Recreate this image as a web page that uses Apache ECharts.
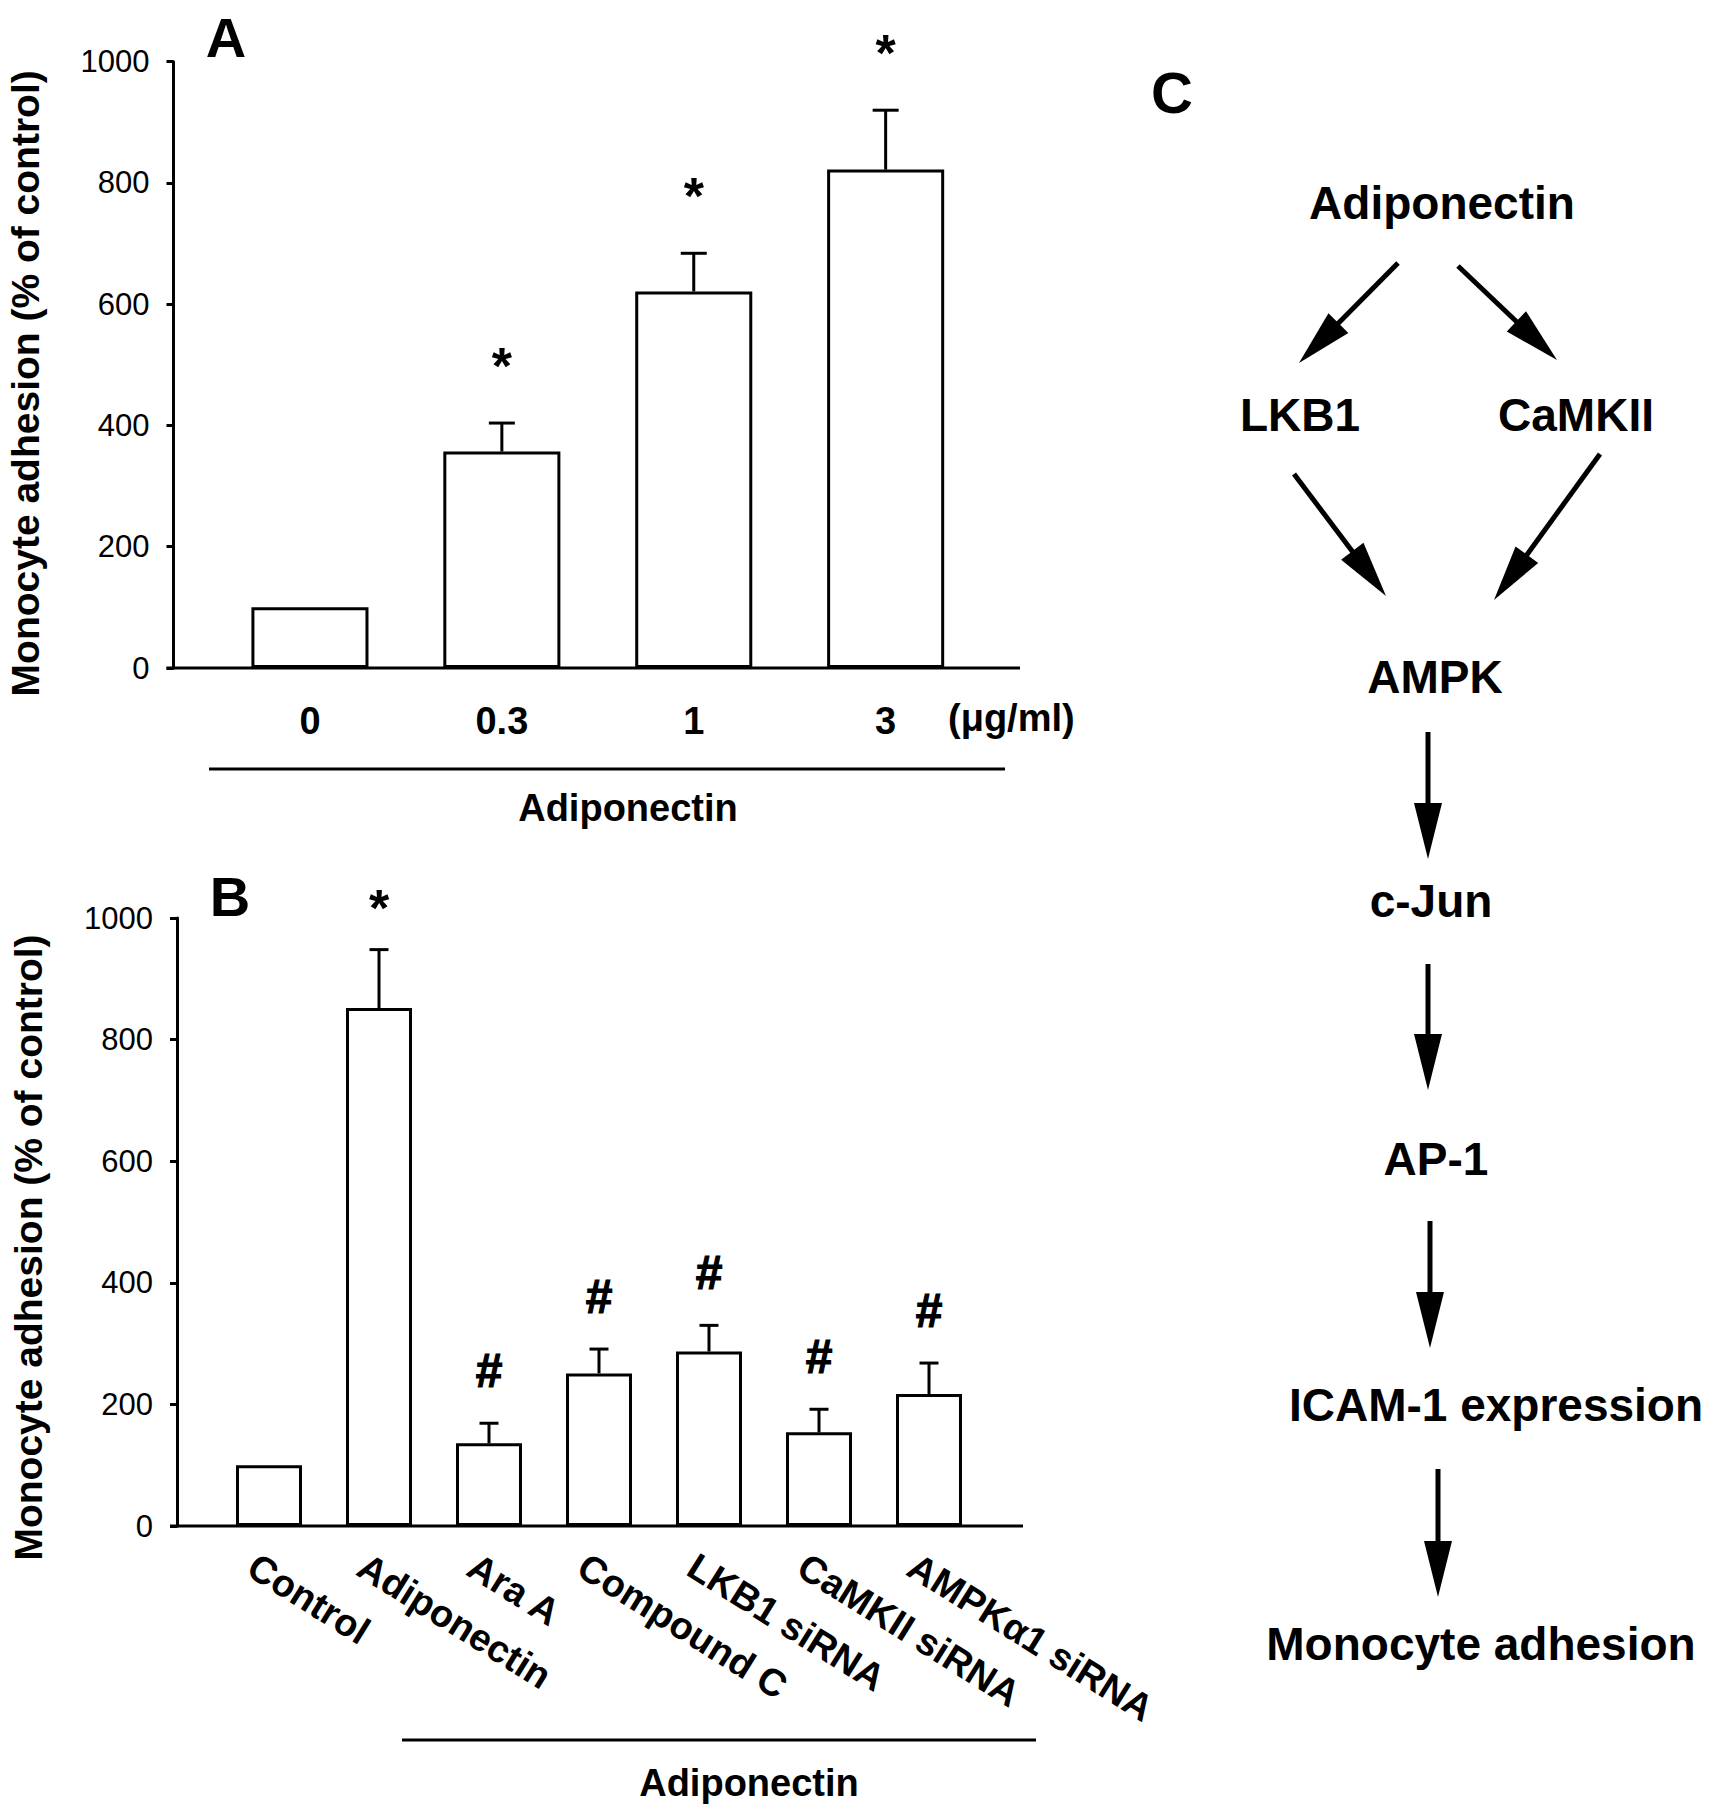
<!DOCTYPE html>
<html><head><meta charset="utf-8">
<script src="https://cdn.jsdelivr.net/npm/echarts@6/dist/echarts.min.js"></script>
<style>html,body{margin:0;padding:0;background:#fff}#c{width:1719px;height:1818px}</style>
</head><body><div id="c"></div>
<script>
// ---------- data ----------
const aCategories = ['0', '0.3', '1', '3'];
const aMeans = [100, 357, 621, 822];
const aSem = [0, 47, 63, 98];
const aMarks = ['', '*', '*', '*'];

const bCategories = ['Control', 'Adiponectin', 'Ara A', 'Compound C', 'LKB1 siRNA', 'CaMKII siRNA', 'AMPKα1 siRNA'];
const bMeans = [100, 852, 136, 251, 287, 154, 217];
const bSem = [0, 96, 33, 40, 43, 38, 51];
const bMarks = ['', '*', '#', '#', '#', '#', '#'];

const yMin = 0, yMax = 1000, yStep = 200;
const yAxisTitle = 'Monocyte adhesion (% of control)';
const groupLabel = 'Adiponectin';
const unitLabel = '(μg/ml)';

const pathwayNodes = ['Adiponectin', 'LKB1', 'CaMKII', 'AMPK', 'c-Jun', 'AP-1', 'ICAM-1 expression', 'Monocyte adhesion'];
const pathwayEdges = [[0, 1], [0, 2], [1, 3], [2, 3], [3, 4], [4, 5], [5, 6], [6, 7]];

// ---------- layout (positions / styles) ----------
const FONT = '"Liberation Sans", Arial, Helvetica, sans-serif';
const gA = {left: 214, top: 61.7, width: 767.6, height: 606.3, axisX: 173.5, lineEnd: 1020};
const gB = {left: 214, top: 918, width: 770, height: 608, axisX: 177, lineEnd: 1023};
const nodePos = [[1442, 203], [1300, 415], [1576, 415], [1435, 677], [1431, 901], [1436, 1159], [1496, 1405], [1481, 1644]];
const edgePos = [
  [[1398, 263], [1299, 363]],
  [[1458, 266], [1557, 360]],
  [[1294, 474], [1386, 596]],
  [[1600, 454], [1494, 600]],
  [[1428, 732], [1428, 859]],
  [[1428, 964], [1428, 1090]],
  [[1430, 1221], [1430, 1348]],
  [[1438, 1469], [1438, 1597]]
];

const chart = echarts.init(document.getElementById('c'), null, {renderer: 'svg'});

function yAxisCfg(gridIndex, offset, shiftPad) {
  return {
    type: 'value', gridIndex, min: yMin, max: yMax, interval: yStep, offset,
    name: yAxisTitle, nameLocation: 'middle', nameGap: 129,
    nameTextStyle: {fontFamily: FONT, fontSize: 39, fontWeight: 'bold', color: '#000', padding: [0, shiftPad, 0, 0]},
    axisLine: {show: true, lineStyle: {color: '#000', width: 3}},
    axisTick: {show: true, length: 7, lineStyle: {color: '#000', width: 3}},
    axisLabel: {fontFamily: FONT, fontSize: 31, color: '#000', margin: 24, formatter: v => String(v)},
    splitLine: {show: false}
  };
}

function barSeries(axisIndex, values, width) {
  return {
    type: 'bar', xAxisIndex: axisIndex, yAxisIndex: axisIndex, data: values, barWidth: width,
    itemStyle: {color: '#fff', borderColor: '#000', borderWidth: 3},
    emphasis: {disabled: true}, animation: false
  };
}

function errSeries(axisIndex, means, sem, marks, capW, gaps) {
  return {
    type: 'custom', xAxisIndex: axisIndex, yAxisIndex: axisIndex, clip: false, z: 5, animation: false,
    data: means.map((m, i) => [i, m, m + sem[i]]),
    renderItem(params, api) {
      const i = api.value(0);
      const b = api.coord([i, api.value(1)]);
      const t = api.coord([i, api.value(2)]);
      const ch = [];
      if (api.value(2) > api.value(1)) {
        ch.push({type: 'line', shape: {x1: b[0], y1: b[1], x2: t[0], y2: t[1]}, style: {stroke: '#000', lineWidth: 3}});
        ch.push({type: 'line', shape: {x1: t[0] - capW / 2, y1: t[1], x2: t[0] + capW / 2, y2: t[1]}, style: {stroke: '#000', lineWidth: 3}});
      }
      const mk = marks[params.dataIndex];
      if (mk) {
        const size = mk === '*' ? 52 : 48;
        ch.push({type: 'text', style: {
          text: mk, x: t[0], y: t[1] - gaps[mk], align: 'center', verticalAlign: 'middle',
          font: 'bold ' + size + 'px ' + FONT, fontFamily: FONT, fontWeight: 'bold', fontSize: size,
          fill: '#000', stroke: mk === '#' ? '#000' : null, lineWidth: mk === '#' ? 1.2 : 0
        }});
      }
      return {type: 'group', children: ch};
    }
  };
}

const graphics = [];
function gLine(x1, y1, x2, y2, w) {
  graphics.push({type: 'line', z: 20, shape: {x1, y1, x2, y2}, style: {stroke: '#000', lineWidth: w}});
}
function gText(text, x, y, size, align) {
  graphics.push({type: 'text', z: 20, style: {text, x, y, align: align || 'center', verticalAlign: 'middle',
    fontFamily: FONT, fontWeight: 'bold', fontSize: size, fill: '#000'}});
}
// baselines (x axis lines)
gLine(gA.axisX - 7, gA.top + gA.height, gA.lineEnd, gA.top + gA.height, 3);
gLine(gB.axisX - 7, gB.top + gB.height, gB.lineEnd, gB.top + gB.height, 3);
// group brackets
gLine(209, 769, 1005, 769, 3);
gText(groupLabel, 628, 808, 38);
gLine(402, 1740, 1036, 1740, 3);
gText(groupLabel, 749, 1783, 38);
gText(unitLabel, 948, 718, 38, 'left');
// panel letters
gText('A', 226, 37, 56);
gText('B', 230, 896, 56);
gText('C', 1172, 92, 58);
// pathway
pathwayNodes.forEach((n, i) => gText(n, nodePos[i][0], nodePos[i][1], 46));
pathwayEdges.forEach((e, k) => {
  const [s, t] = edgePos[k];
  const dx = t[0] - s[0], dy = t[1] - s[1];
  const len = Math.hypot(dx, dy);
  const ux = dx / len, uy = dy / len;
  const headL = 56, headW = 14;
  const bx = t[0] - ux * headL, by = t[1] - uy * headL;
  gLine(s[0], s[1], bx + ux * 4, by + uy * 4, 5);
  graphics.push({type: 'polygon', z: 20, shape: {points: [
    [t[0], t[1]], [bx - uy * headW, by + ux * headW], [bx + uy * headW, by - ux * headW]
  ]}, style: {fill: '#000'}});
});

chart.setOption({
  backgroundColor: '#fff',
  animation: false,
  grid: [
    {left: gA.left, top: gA.top, width: gA.width, height: gA.height, containLabel: false},
    {left: gB.left, top: gB.top, width: gB.width, height: gB.height, containLabel: false}
  ],
  xAxis: [
    {type: 'category', gridIndex: 0, data: aCategories,
      axisLine: {show: false}, axisTick: {show: false},
      axisLabel: {fontFamily: FONT, fontSize: 38, fontWeight: 'bold', color: '#000', margin: 34, interval: 0}},
    {type: 'category', gridIndex: 1, data: bCategories,
      axisLine: {show: false}, axisTick: {show: false},
      axisLabel: {fontFamily: FONT, fontSize: 38, fontWeight: 'bold', color: '#000', margin: 9, interval: 0,
        rotate: -32, align: 'left', verticalAlign: 'top', lineHeight: 66}}
  ],
  yAxis: [yAxisCfg(0, gA.left - gA.axisX, 37), yAxisCfg(1, gB.left - gB.axisX, 51)],
  series: [
    barSeries(0, aMeans, '61%'),
    errSeries(0, aMeans, aSem, aMarks, 26, {'*': 57, '#': 53}),
    barSeries(1, bMeans, '60%'),
    errSeries(1, bMeans, bSem, bMarks, 19, {'*': 42, '#': 53})
  ],
  graphic: {elements: graphics}
});
</script></body></html>
